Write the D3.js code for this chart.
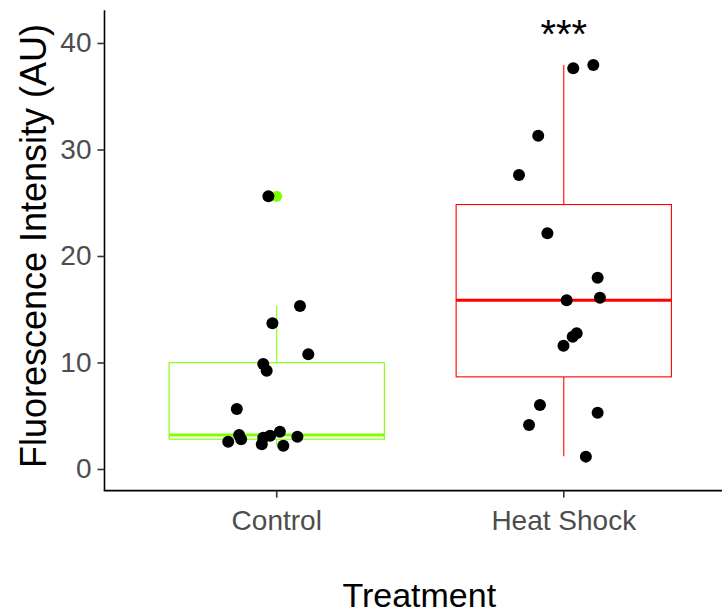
<!DOCTYPE html>
<html>
<head>
<meta charset="utf-8">
<script src="https://cdn.jsdelivr.net/npm/d3@7"></script>
<style>
  html, body { margin: 0; padding: 0; background: #ffffff; }
  svg { display: block; }
  text { font-family: "Liberation Sans", Arial, sans-serif; }
</style>
</head>
<body>
<svg id="chart" width="722" height="613"></svg>
<script>
// Treatment groups and their colours
const categories = ["Control", "Heat Shock"];
const groupColors = ["#7FFF00", "#FF0000"];

// Box summaries per group (AU)
const boxLower   = [2.19, 1.20];   // lower whisker end
const boxQ1      = [2.80, 8.65];
const boxMedian  = [3.18, 15.84];
const boxQ3      = [9.98, 24.83];
const boxUpper   = [15.30, 37.93]; // upper whisker end
const outliers   = [[25.6], []];

// Individual measurements (AU) and their horizontal jitter (fraction of band step)
const controlValues = [25.6, 15.3, 13.68, 10.77, 9.86, 9.23, 5.63, 2.56, 3.19, 2.79, 2.32, 2.94, 3.13, 3.50, 2.19, 3.03];
const controlJitter = [-0.029, 0.081, -0.015, 0.110, -0.047, -0.035, -0.139, -0.169, -0.131, -0.124, -0.052, -0.047, -0.023, 0.011, 0.023, 0.072];
const heatValues = [37.62, 37.93, 31.3, 27.6, 22.13, 17.96, 16.08, 15.84, 12.74, 12.42, 11.58, 6.0, 4.13, 5.29, 1.16];
const heatJitter = [0.033, 0.103, -0.089, -0.156, -0.057, 0.118, 0.126, 0.010, 0.045, 0.031, -0.001, -0.083, -0.121, 0.118, 0.077];

// Axis ticks and significance label
const yTicks = [0, 10, 20, 30, 40];
const sigLabel = "***";
const sigGroup = "Heat Shock";
const sigY = 39.5;

const svg = d3.select("#chart");
const W = 722, H = 613;
const plotLeft = 104.5, plotRight = 736, plotTop = 10.3, plotBottom = 490.6;

const x = d3.scaleBand()
  .domain(categories)
  .range([plotLeft, plotRight])
  .paddingInner(0)
  .paddingOuter(0.1);
const step = x.bandwidth();
const cx = c => x(c) + step / 2;
const boxW = step * 0.75;

const y = d3.scaleLinear()
  .domain([-2.03, 43.07])
  .range([plotBottom, plotTop]);

// Boxplots
const boxes = categories.map((c, i) => ({
  cat: c, color: groupColors[i],
  lo: boxLower[i], q1: boxQ1[i], med: boxMedian[i], q3: boxQ3[i], hi: boxUpper[i],
  out: outliers[i]
}));

const gBox = svg.append("g");
boxes.forEach(b => {
  const g = gBox.append("g");
  const xc = cx(b.cat);
  g.append("line")
    .attr("x1", xc).attr("x2", xc)
    .attr("y1", y(b.q3)).attr("y2", y(b.hi))
    .attr("stroke", b.color).attr("stroke-width", 1.1);
  g.append("line")
    .attr("x1", xc).attr("x2", xc)
    .attr("y1", y(b.q1)).attr("y2", y(b.lo))
    .attr("stroke", b.color).attr("stroke-width", 1.1);
  g.append("rect")
    .attr("x", xc - boxW / 2).attr("width", boxW)
    .attr("y", y(b.q3)).attr("height", y(b.q1) - y(b.q3))
    .attr("fill", "#ffffff")
    .attr("stroke", b.color).attr("stroke-width", 1.1);
  g.append("line")
    .attr("x1", xc - boxW / 2).attr("x2", xc + boxW / 2)
    .attr("y1", y(b.med)).attr("y2", y(b.med))
    .attr("stroke", b.color).attr("stroke-width", 3);
  g.selectAll("circle.out")
    .data(b.out)
    .join("circle")
    .attr("class", "out")
    .attr("cx", xc).attr("cy", d => y(d))
    .attr("r", 5.5)
    .attr("fill", b.color);
});

// Jittered points
const points = []
  .concat(controlValues.map((v, i) => ({ cat: "Control", v, j: controlJitter[i] })))
  .concat(heatValues.map((v, i) => ({ cat: "Heat Shock", v, j: heatJitter[i] })));

svg.append("g")
  .selectAll("circle")
  .data(points)
  .join("circle")
  .attr("cx", d => cx(d.cat) + d.j * step)
  .attr("cy", d => y(d.v))
  .attr("r", 6)
  .attr("fill", "#000000");

// Significance label
svg.append("text")
  .attr("x", cx(sigGroup))
  .attr("y", y(sigY))
  .attr("text-anchor", "middle")
  .attr("font-size", 40)
  .attr("fill", "#000000")
  .text(sigLabel);

// Axes
const styleAxis = g => {
  g.select(".domain").attr("stroke", "#000000").attr("stroke-width", 1.6);
  g.selectAll(".tick line").attr("stroke", "#333333").attr("stroke-width", 1.6);
  g.selectAll(".tick text")
    .attr("fill", "#4D4D4D")
    .attr("font-size", 28)
    .attr("font-family", "'Liberation Sans', Arial, sans-serif");
};

const yAxis = svg.append("g")
  .attr("transform", `translate(${plotLeft},0)`)
  .call(d3.axisLeft(y).tickValues(yTicks).tickSize(7).tickPadding(6).tickSizeOuter(0))
  .call(styleAxis);
yAxis.select(".domain").attr("d", `M0,${plotTop}V${plotBottom}`);

const xAxis = svg.append("g")
  .attr("transform", `translate(0,${plotBottom})`)
  .call(d3.axisBottom(x).tickSize(7).tickPadding(13).tickSizeOuter(0))
  .call(styleAxis);
xAxis.select(".domain").attr("d", `M${plotLeft - 0.8},0H${W}`);

// Axis titles
svg.append("text")
  .attr("x", (plotLeft + W) / 2 + 6)
  .attr("y", 607)
  .attr("text-anchor", "middle")
  .attr("font-size", 34)
  .attr("fill", "#000000")
  .text("Treatment");

svg.append("text")
  .attr("transform", `translate(46,246) rotate(-90)`)
  .attr("text-anchor", "middle")
  .attr("font-size", 36)
  .attr("fill", "#000000")
  .text("Fluorescence Intensity (AU)");
</script>
</body>
</html>
